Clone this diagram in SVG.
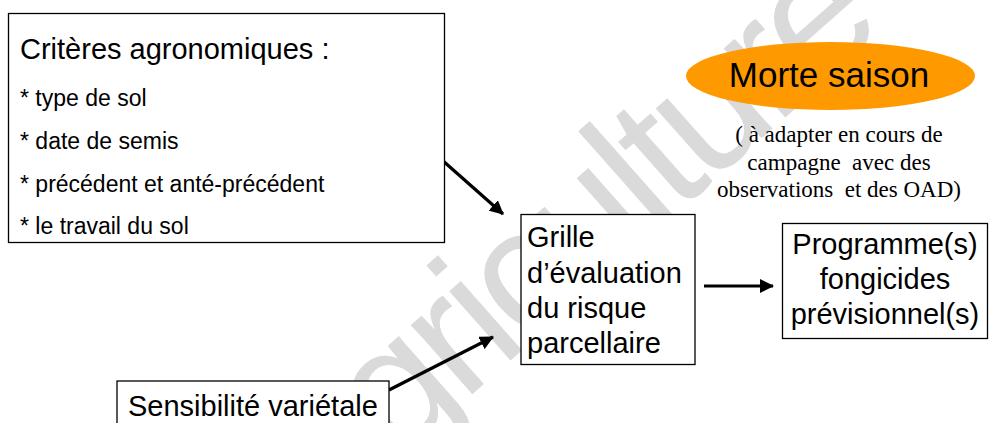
<svg xmlns="http://www.w3.org/2000/svg" width="989" height="423" viewBox="0 0 989 423">
  <style>
    .box { fill: #ffffff; stroke: #000000; stroke-width: 1.3; }
    .sans { font-family: "Liberation Sans", Arial, sans-serif; fill: #000000; }
    .serif { font-family: "Liberation Serif", "Times New Roman", serif; fill: #000000; font-size: 23px; }
    .big { font-size: 29px; }
    .small { font-size: 23px; }
    .conn { stroke: #000000; stroke-width: 3.2; fill: none; marker-end: url(#arrow); }
    .wm { font-family: "Liberation Sans", Arial, sans-serif; font-size: 175px; letter-spacing: -7px; fill: #dadada; }
  </style>
  <defs>
    <marker id="arrow" markerUnits="userSpaceOnUse" markerWidth="14" markerHeight="14" refX="13" refY="7" orient="auto">
      <path d="M0,0 L14,7 L0,14 z" fill="#000000"/>
    </marker>
  </defs>
  <rect width="989" height="423" fill="#ffffff"/>

  <g id="watermark">
    <text class="wm" transform="translate(328,522) rotate(-41.5)">agriculture</text>
  </g>

  <g id="connectors">
    <line class="conn" x1="442" y1="160" x2="503" y2="214"/>
    <line class="conn" x1="389" y1="390" x2="493" y2="337"/>
    <line class="conn" x1="704" y1="286" x2="773" y2="286"/>
  </g>

  <g id="criteres">
    <rect class="box" x="8.5" y="13.5" width="436" height="229"/>
    <text class="sans big" x="20" y="59">Critères agronomiques :</text>
    <text class="sans small" x="20" y="106">* type de sol</text>
    <text class="sans small" x="20" y="149">* date de semis</text>
    <text class="sans small" x="20" y="192">* précédent et anté-précédent</text>
    <text class="sans small" x="20" y="234">* le travail du sol</text>
  </g>

  <g id="sensibilite">
    <rect class="box" x="117" y="381" width="272" height="60"/>
    <text class="sans big" x="128" y="416">Sensibilité variétale</text>
  </g>

  <g id="grille">
    <rect class="box" x="521" y="214.5" width="174" height="150"/>
    <text class="sans big" x="527" y="247">Grille</text>
    <text class="sans big" x="527" y="283">d’évaluation</text>
    <text class="sans big" x="527" y="318">du risque</text>
    <text class="sans big" x="527" y="353">parcellaire</text>
  </g>

  <g id="programme">
    <rect class="box" x="782.5" y="223.5" width="205" height="115"/>
    <text class="sans big" x="885" y="254" text-anchor="middle">Programme(s)</text>
    <text class="sans big" x="885" y="289" text-anchor="middle">fongicides</text>
    <text class="sans big" x="885" y="324" text-anchor="middle">prévisionnel(s)</text>
  </g>

  <g id="morte-saison">
    <ellipse cx="830.5" cy="76" rx="144.5" ry="34" fill="#ff9900"/>
    <text class="sans" x="829" y="87" font-size="35" text-anchor="middle">Morte saison</text>
  </g>

  <g id="note">
    <text class="serif" x="839" y="142" text-anchor="middle" xml:space="preserve">( à adapter en cours de</text>
    <text class="serif" x="839" y="170" text-anchor="middle" xml:space="preserve">campagne  avec des</text>
    <text class="serif" x="839" y="197" text-anchor="middle" xml:space="preserve">observations  et des OAD)</text>
  </g>
</svg>
